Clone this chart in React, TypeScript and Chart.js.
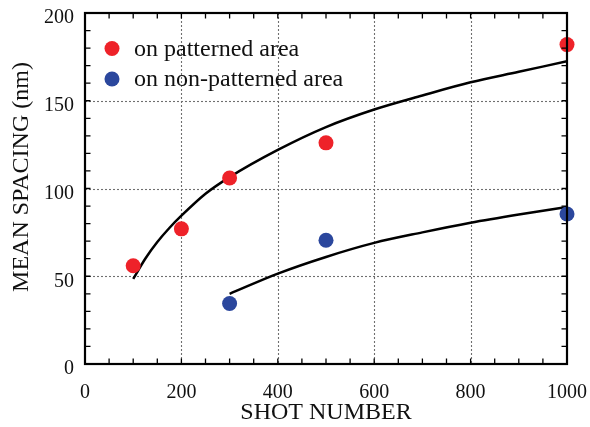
import React, { useEffect, useRef } from "react";
import { Chart, registerables } from "chart.js";

Chart.register(...registerables);

const patternedX = [100, 200, 300, 500, 1000];
const patternedY = [56, 77, 106, 126, 182];
const nonPatternedX = [300, 500, 1000];
const nonPatternedY = [34.5, 70.5, 85.5];

const fitPatternedX = [100, 125, 150, 175, 200, 250, 300, 400, 500, 600, 700, 800, 900, 1000];
const fitPatternedY = [48.5, 60, 69.5, 77.5, 84.5, 97, 106.5, 122, 135, 145, 153, 160.5, 166.5, 172.5];
const fitNonPatternedX = [300, 400, 500, 600, 700, 800, 900, 1000];
const fitNonPatternedY = [40, 51.5, 61, 69, 75, 80.5, 85.2, 89.5];

const xTicks = [0, 200, 400, 600, 800, 1000];
const yTicks = [0, 50, 100, 150, 200];

const legendLabels = ["on patterned area", "on non-patterned area"];
const xTitle = "SHOT NUMBER";
const yTitle = "MEAN SPACING (nm)";

const RED = "#ee2229";
const BLUE = "#2b479d";
const FONT = "'Liberation Serif', 'Times New Roman', serif";

const toPts = (xs: number[], ys: number[]) => xs.map((x, i) => ({ x, y: ys[i] }));

const framePlugin = {
  id: "frame",
  beforeDatasetsDraw(chart: any) {
    const { ctx, chartArea: a, scales } = chart;
    const xs = scales.x;
    const ys = scales.y;
    ctx.save();
    ctx.strokeStyle = "#6f6f6f";
    ctx.lineWidth = 1.1;
    ctx.setLineDash([2, 2]);
    xTicks.slice(1, -1).forEach((v) => {
      const px = Math.round(xs.getPixelForValue(v)) + 0.5;
      ctx.beginPath();
      ctx.moveTo(px, a.top);
      ctx.lineTo(px, a.bottom);
      ctx.stroke();
    });
    yTicks.slice(1, -1).forEach((v) => {
      const py = Math.round(ys.getPixelForValue(v)) + 0.5;
      ctx.beginPath();
      ctx.moveTo(a.left, py);
      ctx.lineTo(a.right, py);
      ctx.stroke();
    });
    ctx.restore();
  },
  afterDatasetsDraw(chart: any) {
    const { ctx, chartArea: a, scales } = chart;
    const xs = scales.x;
    const ys = scales.y;
    ctx.save();
    ctx.setLineDash([]);
    ctx.strokeStyle = "#000";
    ctx.lineWidth = 1.3;
    const tl = 5.5;
    for (let v = 50; v < 1000; v += 50) {
      const px = xs.getPixelForValue(v);
      ctx.beginPath();
      ctx.moveTo(px, a.bottom);
      ctx.lineTo(px, a.bottom - tl);
      ctx.moveTo(px, a.top);
      ctx.lineTo(px, a.top + tl);
      ctx.stroke();
    }
    for (let v = 10; v < 200; v += 10) {
      const py = ys.getPixelForValue(v);
      ctx.beginPath();
      ctx.moveTo(a.left, py);
      ctx.lineTo(a.left + tl, py);
      ctx.moveTo(a.right, py);
      ctx.lineTo(a.right - tl, py);
      ctx.stroke();
    }
    ctx.lineWidth = 2.2;
    ctx.strokeRect(a.left, a.top, a.right - a.left, a.bottom - a.top);

    const items = [
      { label: legendLabels[0], color: RED, y: 48.5 },
      { label: legendLabels[1], color: BLUE, y: 79 },
    ];
    ctx.font = `24px ${FONT}`;
    ctx.textBaseline = "middle";
    ctx.textAlign = "left";
    items.forEach((it) => {
      ctx.fillStyle = it.color;
      ctx.beginPath();
      ctx.arc(112, it.y, 7.5, 0, Math.PI * 2);
      ctx.fill();
      ctx.fillStyle = "#111";
      ctx.fillText(it.label, 134, it.y + 1);
    });

    ctx.fillStyle = "#111";
    ctx.font = `24px ${FONT}`;
    ctx.textAlign = "center";
    ctx.textBaseline = "alphabetic";
    ctx.fillText(xTitle, (a.left + a.right) / 2, 418.5);
    ctx.save();
    ctx.translate(28, 177);
    ctx.rotate(-Math.PI / 2);
    ctx.fillText(yTitle, 0, 0);
    ctx.restore();
    ctx.restore();
  },
};

export default function App() {
  const ref = useRef<HTMLCanvasElement | null>(null);
  useEffect(() => {
    if (!ref.current) return;
    const chart = new Chart(ref.current, {
      type: "scatter",
      data: {
        datasets: [
          {
            label: legendLabels[0],
            data: toPts(patternedX, patternedY),
            backgroundColor: RED,
            borderWidth: 0,
            pointRadius: 7.5,
            clip: false,
          } as any,
          {
            label: legendLabels[1],
            data: toPts(nonPatternedX, nonPatternedY),
            backgroundColor: BLUE,
            borderWidth: 0,
            pointRadius: 7.5,
            clip: false,
          } as any,
          {
            label: "fit patterned",
            data: toPts(fitPatternedX, fitPatternedY),
            showLine: true,
            borderColor: "#000",
            borderWidth: 2.5,
            pointRadius: 0,
            cubicInterpolationMode: "monotone",
          } as any,
          {
            label: "fit non-patterned",
            data: toPts(fitNonPatternedX, fitNonPatternedY),
            showLine: true,
            borderColor: "#000",
            borderWidth: 2.5,
            pointRadius: 0,
            cubicInterpolationMode: "monotone",
          } as any,
        ],
      },
      options: {
        responsive: false,
        animation: false,
        devicePixelRatio: 1,
        layout: { padding: { left: 0, right: 23, top: 13, bottom: 0 } },
        plugins: {
          legend: { display: false },
          tooltip: { enabled: false },
          title: { display: false },
        },
        scales: {
          x: {
            type: "linear",
            min: 0,
            max: 1000,
            grid: { display: false, drawTicks: false },
            border: { display: false },
            afterFit: (s: any) => {
              s.height = 63;
              s.paddingLeft = 0;
              s.paddingRight = 0;
              s.paddingTop = 0;
              s.paddingBottom = 0;
            },
            afterBuildTicks: (s: any) => {
              s.ticks = xTicks.map((v) => ({ value: v }));
            },
            ticks: {
              padding: 17,
              color: "#111",
              font: { family: FONT, size: 20 },
              maxRotation: 0,
              callback: (v: any) => String(v),
            },
          },
          y: {
            type: "linear",
            min: 0,
            max: 200,
            grid: { display: false, drawTicks: false },
            border: { display: false },
            afterFit: (s: any) => {
              s.width = 85;
              s.paddingLeft = 0;
              s.paddingRight = 0;
              s.paddingTop = 0;
              s.paddingBottom = 0;
            },
            afterBuildTicks: (s: any) => {
              s.ticks = yTicks.map((v) => ({ value: v }));
            },
            ticks: {
              padding: 11,
              labelOffset: 5,
              color: "#111",
              font: { family: FONT, size: 20 },
              callback: (v: any) => String(v),
            },
          },
        },
      },
      plugins: [framePlugin],
    });
    return () => chart.destroy();
  }, []);
  return (
    <div style={{ position: "fixed", left: 0, top: 0, width: 590, height: 427, background: "#fff" }}>
      <canvas ref={ref} width={590} height={427} />
    </div>
  );
}
